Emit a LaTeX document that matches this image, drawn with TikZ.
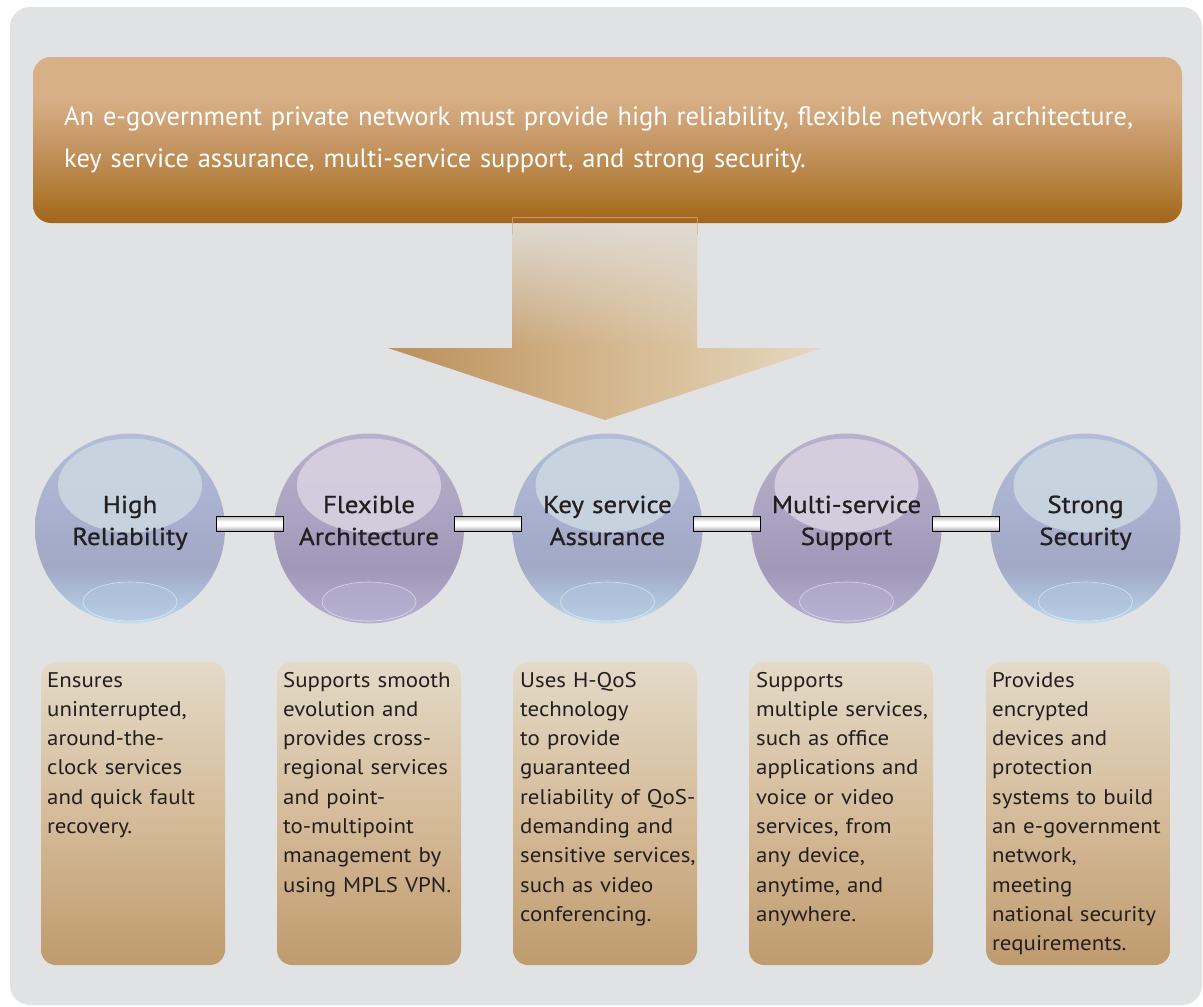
\documentclass[tikz,border=0pt]{standalone}
\usepackage{fontspec}
\setmainfont{PT Sans}
\newfontfamily\bannerfont{PT Sans}
\newfontfamily\boxfont[FakeStretch=1.08]{PT Sans}
\newfontfamily\spherefont[FakeStretch=1.1, FakeBold=0.8]{PT Sans}
\usetikzlibrary{fadings,calc}

\definecolor{bggray}{HTML}{E1E2E4}
\definecolor{txt}{HTML}{231F20}
\definecolor{bnA}{HTML}{A2651A}
\definecolor{bnB}{HTML}{B27D38}
\definecolor{bnC}{HTML}{C79868}
\definecolor{bnD}{HTML}{D8B087}
\definecolor{bxTop}{HTML}{E3DAC8}
\definecolor{bxMid}{HTML}{D5BC9A}
\definecolor{bxBot}{HTML}{BF9B6E}
\definecolor{arL}{HTML}{BA8F5B}
\definecolor{arM}{HTML}{D4B68D}
\definecolor{arR}{HTML}{E4D8C0}
\definecolor{shaftTop}{HTML}{E0DCD6}
\definecolor{shaftLine}{HTML}{CDB48C}
% blue sphere
\definecolor{bsA}{HTML}{BEE0EE}
\definecolor{bsB}{HTML}{AFC3DC}
\definecolor{bsC}{HTML}{A2A8C6}
\definecolor{bsD}{HTML}{A7AFCD}
\definecolor{bsE}{HTML}{B2BDD9}
\definecolor{bsHi}{HTML}{CAD7E1}
\definecolor{bsLo}{HTML}{B3C3DD}
% purple sphere
\definecolor{psA}{HTML}{B9B3D3}
\definecolor{psB}{HTML}{ADA6C6}
\definecolor{psC}{HTML}{A098B8}
\definecolor{psD}{HTML}{A9A2C0}
\definecolor{psE}{HTML}{B7B1CD}
\definecolor{psHi}{HTML}{D7D1E1}
\definecolor{psLo}{HTML}{B5AFD1}
\definecolor{barA}{HTML}{BDBDBD}
\definecolor{barB}{HTML}{FFFFFF}
\definecolor{barC}{HTML}{9E9E9E}

\pgfdeclareverticalshading{bannershade}{100bp}{color(0bp)=(bnA); color(25bp)=(bnA); color(35bp)=(bnB); color(50bp)=(bnC); color(63bp)=(bnD); color(100bp)=(bnD)}
\pgfdeclareverticalshading{blueshade}{100bp}{color(0bp)=(bsA); color(25bp)=(bsA); color(31bp)=(bsB); color(40bp)=(bsC); color(52bp)=(bsD); color(75bp)=(bsE); color(100bp)=(bsE)}
\pgfdeclareverticalshading{purpleshade}{100bp}{color(0bp)=(psA); color(25bp)=(psA); color(31bp)=(psB); color(40bp)=(psC); color(52bp)=(psD); color(75bp)=(psE); color(100bp)=(psE)}
\pgfdeclareverticalshading{barshade}{100bp}{color(0bp)=(barC); color(25bp)=(barC); color(45bp)=(barB); color(58bp)=(barB); color(75bp)=(barA); color(100bp)=(barA)}

\tikzset{
  banner/.style={rounded corners=18pt, shading=bannershade},
  descbox/.style={rectangle, rounded corners=15pt, minimum width=184pt, minimum height=303pt,
    top color=bxTop, bottom color=bxBot, middle color=bxMid, inner sep=0pt},
  desctext/.style={anchor=base west, text width=200pt, align=left, inner sep=0pt,
    text=txt, font=\boxfont\fontsize{21.2}{29.3}\selectfont},
  sphere/.style={circle, minimum size=190pt, inner sep=0pt},
  bluesphere/.style={sphere, shading=blueshade,
    path picture={
      \fill[bsHi, opacity=0.9] ($(path picture bounding box.center)+(0,-43)$) ellipse [x radius=72pt, y radius=47pt];
      \filldraw[fill=bsLo, fill opacity=0.6, draw=white, draw opacity=0.55, line width=0.6pt]
        ($(path picture bounding box.center)+(0,73)$) ellipse [x radius=47pt, y radius=19.5pt];
    }},
  purplesphere/.style={sphere, shading=purpleshade,
    path picture={
      \fill[psHi, opacity=0.9] ($(path picture bounding box.center)+(0,-43)$) ellipse [x radius=72pt, y radius=47pt];
      \filldraw[fill=psLo, fill opacity=0.6, draw=white, draw opacity=0.55, line width=0.6pt]
        ($(path picture bounding box.center)+(0,73)$) ellipse [x radius=47pt, y radius=19.5pt];
    }},
  spheretext/.style={anchor=base, text width=190pt, align=center, inner sep=0pt,
    text=txt, font=\spherefont\fontsize{24.5}{32}\selectfont},
  linkbar/.style={rectangle, draw=black, line width=0.9pt, minimum width=67pt, minimum height=15pt,
    inner sep=0pt, shading=barshade},
}

\begin{document}
\begin{tikzpicture}[x=1pt, y=-1pt]
\useasboundingbox (0,0) rectangle (1203,1007);
\fill[white] (0,0) rectangle (1203,1007);
\fill[bggray, rounded corners=20pt] (10,7) rectangle (1202,1005);

% arrow
\shade[left color=arL, right color=arR, middle color=arM]
  (512,217) -- (697,217) -- (697,348) -- (822,348) -- (605,420) -- (388,348) -- (512,348) -- cycle;
\fill[shaftTop, path fading=south] (512,217) rectangle (697,348);

% banner
\path[banner] (33,57) rectangle (1182,223);
\draw[shaftLine, line width=0.6pt, opacity=0.7]
  (512,235) -- (512,217) -- (697,217) -- (697,235);
\node[anchor=base west, text width=1140pt, align=left, inner sep=0pt, text=white,
  font=\bannerfont\fontsize{26.5}{42}\selectfont] (bannertext) at (64,125)
  {An e-government private network must provide high reliability, flexible network architecture,\\
   key service assurance, multi-service support, and strong security.};

% spheres
\node[bluesphere]   (c1) at (130,528.5) {};
\node[purplesphere] (c2) at (369,528.5) {};
\node[bluesphere]   (c3) at (607.5,528.5) {};
\node[purplesphere] (c4) at (846.5,528.5) {};
\node[bluesphere]   (c5) at (1085.5,528.5) {};

\node[spheretext] (l1) at (130,513) {High\\Reliability};
\node[spheretext] (l2) at (369,513) {Flexible\\Architecture};
\node[spheretext] (l3) at (607.5,513) {Key service\\Assurance};
\node[spheretext] (l4) at (846.5,513) {Multi-service\\Support};
\node[spheretext] (l5) at (1085.5,513) {Strong\\Security};

% connectors
\path (c1.east) -- (c2.west) node[midway, yshift=4.5pt, linkbar] (b12) {};
\path (c2.east) -- (c3.west) node[midway, yshift=4.5pt, linkbar] (b23) {};
\path (c3.east) -- (c4.west) node[midway, yshift=4.5pt, linkbar] (b34) {};
\path (c4.east) -- (c5.west) node[midway, yshift=4.5pt, linkbar] (b45) {};

% description boxes
\node[descbox] (d1) at (133,813.5) {};
\node[descbox] (d2) at (369,813.5) {};
\node[descbox] (d3) at (605,813.5) {};
\node[descbox] (d4) at (841,813.5) {};
\node[descbox] (d5) at (1078,813.5) {};

\node[desctext] (t1) at (47,687) {Ensures\\uninterrupted,\\around-the-\\clock services\\and quick fault\\recovery.};
\node[desctext] (t2) at (283,687) {Supports smooth\\evolution and\\provides cross-\\regional services\\and point-\\to-multipoint\\management by\\using MPLS VPN.};
\node[desctext] (t3) at (520,687) {Uses H-QoS\\technology\\to provide\\guaranteed\\reliability of QoS-\\demanding and\\sensitive services,\\such as video\\conferencing.};
\node[desctext] (t4) at (756,687) {Supports\\multiple services,\\such as office\\applications and\\voice or video\\services, from\\any device,\\anytime, and\\anywhere.};
\node[desctext] (t5) at (992,687) {Provides\\encrypted\\devices and\\protection\\systems to build\\an e-government\\network,\\meeting\\national security\\requirements.};
\end{tikzpicture}
\end{document}
